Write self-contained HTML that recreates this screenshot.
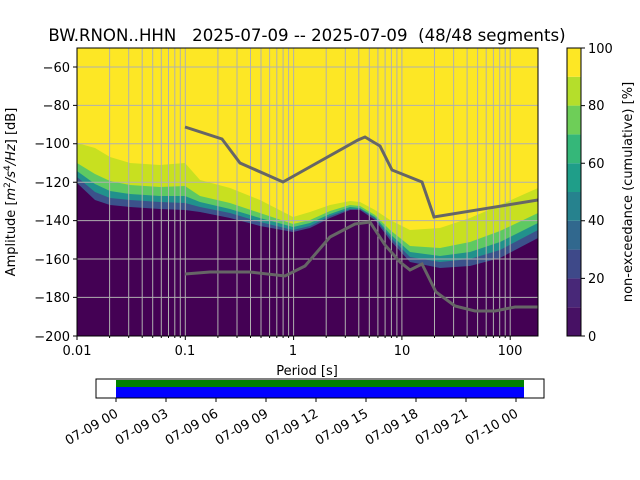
<!DOCTYPE html>
<html><head><meta charset="utf-8"><style>body{margin:0;background:#fff}svg{display:block;font-family:"DejaVu Sans","Liberation Sans",sans-serif}</style></head><body>
<svg width="640" height="480" viewBox="0 0 640 480">
<defs><clipPath id="pc"><rect x="77" y="48" width="461" height="288"/></clipPath></defs>
<text x="307" y="41" font-size="16.6" text-anchor="middle" xml:space="preserve" style="white-space:pre">BW.RNON..HHN   2025-07-09 -- 2025-07-09  (48/48 segments)</text>
<g clip-path="url(#pc)">
<rect x="77" y="48" width="461" height="288" fill="#fde725"/>
<polygon fill="#c8e020" points="77,143 95,148 110,157 130,163 160,165 185,163 200,180 230,188 260,200 293,217 310,212 330,205 350,201 360,202 375,210 390,220 410,230 440,228 470,218 500,205 538,188 538,336 77,336"/>
<polygon fill="#5ec962" points="77,163 95,174 110,181 130,185 160,187 185,186 200,196 230,203 260,213 293,224 310,220 330,211 350,205 360,206 375,215 390,230 410,246 440,248 470,242 500,231 538,213 538,336 77,336"/>
<polygon fill="#21918c" points="77,171 95,184 110,191 130,194 160,196 185,196 200,202 230,209 260,218 293,227 310,223 330,214 350,207 360,208 375,217 390,234 410,252 440,256 470,252 500,242 538,223 538,336 77,336"/>
<polygon fill="#3b528b" points="77,177 95,192 110,198 130,200 160,202 185,203 200,207 230,213 260,222 293,230 310,226 330,216 350,209 360,209 375,218 390,237 410,257 440,262 470,259 500,250 538,230 538,336 77,336"/>
<polygon fill="#440154" points="77,183 95,200 110,205 130,207 160,209 185,210 200,212 230,218 260,226 293,232 310,228 330,218 350,210 360,210 375,220 390,240 410,262 440,268 470,266 500,258 538,238 538,336 77,336"/>
<g stroke="#b0b0b0" stroke-width="1">
<path d="M77,67H538M77,105.4H538M77,143.8H538M77,182.2H538M77,220.6H538M77,259H538M77,297.4H538"/>
<path d="M109.6,48V336M128.7,48V336M142.2,48V336M152.7,48V336M161.3,48V336M168.5,48V336M174.8,48V336M180.3,48V336M185.3,48V336M217.9,48V336M237,48V336M250.5,48V336M261,48V336M269.6,48V336M276.8,48V336M283.1,48V336M288.6,48V336M293.6,48V336M326.2,48V336M345.3,48V336M358.8,48V336M369.3,48V336M377.9,48V336M385.1,48V336M391.4,48V336M396.9,48V336M401.9,48V336M434.5,48V336M453.6,48V336M467.1,48V336M477.6,48V336M486.2,48V336M493.4,48V336M499.7,48V336M505.2,48V336M510.2,48V336"/>
</g>
<g fill="none" stroke="#666" stroke-width="3">
<polyline points="185,127 222,139 240,163 283,182 358,140 365,137 380,146 392,170 422,182 434,217 538,200"/>
<polyline points="185,274 210,272 250,272 285,276 305,266 330,237 355,224 370,222 385,245 400,262 410,270 422,264 436,292 455,306 475,311 495,311 515,307 538,307"/>
</g>
</g>
<rect x="77" y="48" width="461" height="288" fill="none" stroke="#000" stroke-width="1"/>
<g stroke="#000" stroke-width="1">
<path d="M77,336v4M185.3,336v4M293.6,336v4M401.9,336v4M510.2,336v4"/>
<path d="M109.6,336v2M128.7,336v2M142.2,336v2M152.7,336v2M161.3,336v2M168.5,336v2M174.8,336v2M180.3,336v2M217.9,336v2M237,336v2M250.5,336v2M261,336v2M269.6,336v2M276.8,336v2M283.1,336v2M288.6,336v2M326.2,336v2M345.3,336v2M358.8,336v2M369.3,336v2M377.9,336v2M385.1,336v2M391.4,336v2M396.9,336v2M434.5,336v2M453.6,336v2M467.1,336v2M477.6,336v2M486.2,336v2M493.4,336v2M499.7,336v2M505.2,336v2"/>
<path d="M77,67h-4M77,105.4h-4M77,143.8h-4M77,182.2h-4M77,220.6h-4M77,259h-4M77,297.4h-4M77,336h-4"/>
</g>
<g font-size="13" text-anchor="middle">
<text x="77" y="355">0.01</text><text x="185" y="355">0.1</text><text x="293" y="355">1</text><text x="402" y="355">10</text><text x="510" y="355">100</text>
<text x="307" y="375">Period [s]</text>
</g>
<g font-size="13" text-anchor="end">
<text x="70" y="72">−60</text><text x="70" y="110">−80</text><text x="70" y="148">−100</text><text x="70" y="187">−120</text><text x="70" y="225">−140</text><text x="70" y="264">−160</text><text x="70" y="302">−180</text><text x="70" y="341">−200</text>
</g>
<text transform="translate(15,192) rotate(-90)" font-size="13" text-anchor="middle">Amplitude [<tspan font-style="italic">m</tspan><tspan font-size="9" dy="-5">2</tspan><tspan dy="5" font-style="italic">/s</tspan><tspan font-size="9" dy="-5">4</tspan><tspan dy="5" font-style="italic">/Hz</tspan>] [dB]</text>
<g>
<rect x="567" y="307.2" width="14" height="28.8" fill="#471164"/>
<rect x="567" y="278.4" width="14" height="28.8" fill="#482878"/>
<rect x="567" y="249.6" width="14" height="28.8" fill="#3e4989"/>
<rect x="567" y="220.8" width="14" height="28.8" fill="#31688e"/>
<rect x="567" y="192" width="14" height="28.8" fill="#26828e"/>
<rect x="567" y="163.2" width="14" height="28.8" fill="#1f9e89"/>
<rect x="567" y="134.4" width="14" height="28.8" fill="#35b779"/>
<rect x="567" y="105.6" width="14" height="28.8" fill="#6ece58"/>
<rect x="567" y="76.8" width="14" height="28.8" fill="#b5de2b"/>
<rect x="567" y="48" width="14" height="28.8" fill="#fde725"/>
</g>
<rect x="567" y="48" width="14" height="288" fill="none" stroke="#000" stroke-width="1"/>
<g stroke="#000"><path d="M581,336h4M581,278.4h4M581,220.8h4M581,163.2h4M581,105.6h4M581,48h4"/></g>
<g font-size="13"><text x="588" y="341">0</text><text x="588" y="283">20</text><text x="588" y="225">40</text><text x="588" y="168">60</text><text x="588" y="110">80</text><text x="588" y="53">100</text></g>
<text transform="translate(632,192) rotate(-90)" font-size="13" text-anchor="middle">non-exceedance (cumulative) [%]</text>
<rect x="116" y="380" width="408" height="7" fill="#008000"/>
<rect x="116" y="387" width="408" height="11" fill="#0000ff"/>
<rect x="96" y="379" width="448" height="19" fill="none" stroke="#000"/>
<g stroke="#000"><path d="M116,398v4M166,398v4M216,398v4M266,398v4M316,398v4M366,398v4M416,398v4M466,398v4M516,398v4"/></g>
<g font-size="13" text-anchor="end">
<text transform="translate(119,416) rotate(-30)">07-09 00</text>
<text transform="translate(169,416) rotate(-30)">07-09 03</text>
<text transform="translate(219,416) rotate(-30)">07-09 06</text>
<text transform="translate(269,416) rotate(-30)">07-09 09</text>
<text transform="translate(319,416) rotate(-30)">07-09 12</text>
<text transform="translate(369,416) rotate(-30)">07-09 15</text>
<text transform="translate(419,416) rotate(-30)">07-09 18</text>
<text transform="translate(469,416) rotate(-30)">07-09 21</text>
<text transform="translate(519,416) rotate(-30)">07-10 00</text>
</g>
</svg>
</body></html>
